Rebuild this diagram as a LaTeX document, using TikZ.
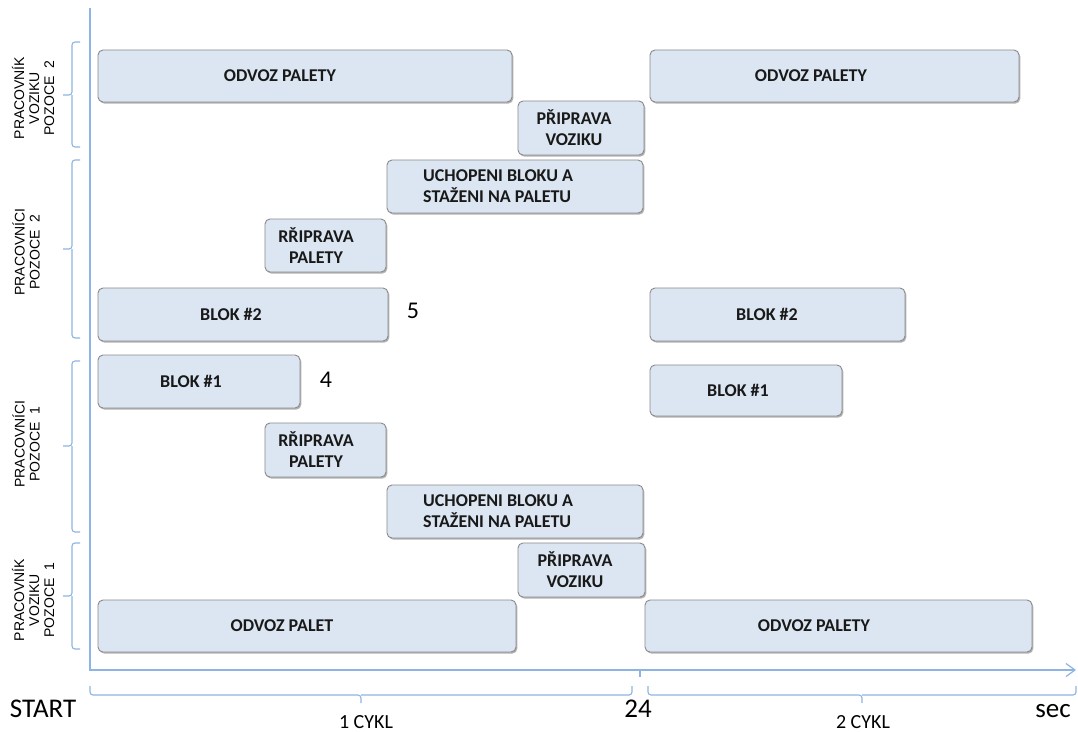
\documentclass[tikz,border=0pt]{standalone}
\usepackage{fontspec}
\setmainfont{Carlito}
\newfontfamily\rowlabelfont{Liberation Sans}
\usetikzlibrary{shadows,arrows.meta}

\definecolor{boxfill}{HTML}{DCE6F2}
\definecolor{boxline}{HTML}{8A8A8A}
\definecolor{axisblue}{HTML}{8EB4E3}

\begin{document}
\begin{tikzpicture}[x=1pt,y=-1pt,
  task/.style={draw=boxline, line width=0.9pt, fill=boxfill, rounded corners=5pt,
    inner sep=0pt, outer sep=0pt,
    drop shadow={shadow xshift=1.3pt, shadow yshift=-1.6pt, fill=black, opacity=0.3}},
  tasktext/.style={font=\fontsize{18}{21}\selectfont\bfseries, text=black!90, align=center, inner sep=0pt},
  tasktextl/.style={tasktext, align=left, anchor=west},
  vlabel/.style={font={\rowlabelfont\fontsize{14}{15}\selectfont}, rotate=90, align=center, inner sep=0pt},
  brace/.style={draw=axisblue, line width=1.1pt, rounded corners=3pt},
  axis/.style={draw=axisblue, line width=1.2pt},
  bignum/.style={font=\fontsize{27}{30}\selectfont, anchor=base, inner sep=0pt},
  cyklnum/.style={font=\fontsize{20}{22}\selectfont, anchor=base, inner sep=0pt},
]
\useasboundingbox[fill=white] (0,0) rectangle (1078,731);

% axes
\coordinate (ytop) at (90,8);
\coordinate (xend) at (1076,670);
\coordinate (tickA) at (640,670);
\coordinate (tickB) at (640,677);
\draw[axis, -{Straight Barb[length=9pt,width=13pt,line width=1.2pt]}] (ytop) |- (xend);
\draw[axis] (tickA) -- (tickB);

% row braces on the left
\draw[brace] (80,42) -| (72,95) -- (63,95);
\draw[brace] (80,147) -| (72,95);
\draw[brace] (80,160) -| (72,249) -- (63,249);
\draw[brace] (80,338) -| (72,249);
\draw[brace] (80,361) -| (72,446) -- (63,446);
\draw[brace] (80,532) -| (72,446);
\draw[brace] (80,543) -| (72,596) -- (63,596);
\draw[brace] (80,649) -| (72,596);

% cycle braces below the time axis
\draw[brace] (90,686) |- (361,695) -- (361,703);
\draw[brace] (632,686) |- (361,695);
\draw[brace] (648,686) |- (862,695) -- (862,703);
\draw[brace] (1076,686) |- (862,695);

% row labels
\node[vlabel] (l1) at (33,98) {PRACOVNÍK\\VOZIKU\\POZOCE~ 2};
\node[vlabel] (l2) at (26,252) {PRACOVNÍCI\\POZOCE~ 2};
\node[vlabel] (l3) at (26,444) {PRACOVNÍCI\\POZOCE~ 1};
\node[vlabel] (l4) at (33,600) {PRACOVNÍK\\VOZIKU\\POZOCE~ 1};

% task boxes
\node[task, minimum width=414pt, minimum height=52pt] (b1) at (305,76) {};
\node[task, minimum width=126pt, minimum height=54pt] (b2) at (581,128) {};
\node[task, minimum width=369pt, minimum height=52pt] (b3) at (834.5,76) {};
\node[task, minimum width=256pt, minimum height=53pt] (b4) at (515,186.5) {};
\node[task, minimum width=121pt, minimum height=53pt] (b5) at (325.5,245.5) {};
\node[task, minimum width=290pt, minimum height=53pt] (b6) at (243,314.5) {};
\node[task, minimum width=255pt, minimum height=53pt] (b7) at (777.5,314.5) {};
\node[task, minimum width=202pt, minimum height=53pt] (b8) at (199,381.5) {};
\node[task, minimum width=192pt, minimum height=51pt] (b9) at (746,390.5) {};
\node[task, minimum width=121pt, minimum height=54pt] (b10) at (325.5,450) {};
\node[task, minimum width=256pt, minimum height=53pt] (b11) at (515,511.5) {};
\node[task, minimum width=127pt, minimum height=54pt] (b12) at (581.5,570) {};
\node[task, minimum width=418pt, minimum height=52pt] (b13) at (307,626) {};
\node[task, minimum width=387pt, minimum height=52pt] (b14) at (838.5,626) {};

% task texts
\node[tasktext] (t1) at (280,76) {ODVOZ PALETY};
\node[tasktext] (t2) at (574,128) {PŘIPRAVA\\VOZIKU};
\node[tasktext] (t3) at (811,76) {ODVOZ PALETY};
\node[tasktextl] (t4) at (423,186.5) {UCHOPENI BLOKU A\\STAŽENI NA PALETU};
\node[tasktext] (t5) at (316,245.5) {RŘIPRAVA\\PALETY};
\node[tasktext] (t6) at (231,314) {BLOK \#2};
\node[tasktext] (t7) at (767,314) {BLOK \#2};
\node[tasktext] (t8) at (191,381) {BLOK \#1};
\node[tasktext] (t9) at (738,390) {BLOK \#1};
\node[tasktext] (t10) at (316,450) {RŘIPRAVA\\PALETY};
\node[tasktextl] (t11) at (423,511.5) {UCHOPENI BLOKU A\\STAŽENI NA PALETU};
\node[tasktext] (t12) at (575,570) {PŘIPRAVA\\VOZIKU};
\node[tasktext] (t13) at (282,626) {ODVOZ PALET};
\node[tasktext] (t14) at (814,626) {ODVOZ PALETY};

% side numbers
\node[bignum, font=\fontsize{24}{26}\selectfont] (n5) at (413,318) {5};
\node[bignum, font=\fontsize{24}{26}\selectfont] (n4) at (326,387) {4};

% time axis texts
\node[bignum] (start) at (43,717) {START};
\node[bignum] (t24) at (638,717) {24};
\node[bignum] (sec) at (1053,717) {sec};
\node[cyklnum] (c1) at (366,728) {1 CYKL};
\node[cyklnum] (c2) at (863,728) {2 CYKL};
\end{tikzpicture}
\end{document}
